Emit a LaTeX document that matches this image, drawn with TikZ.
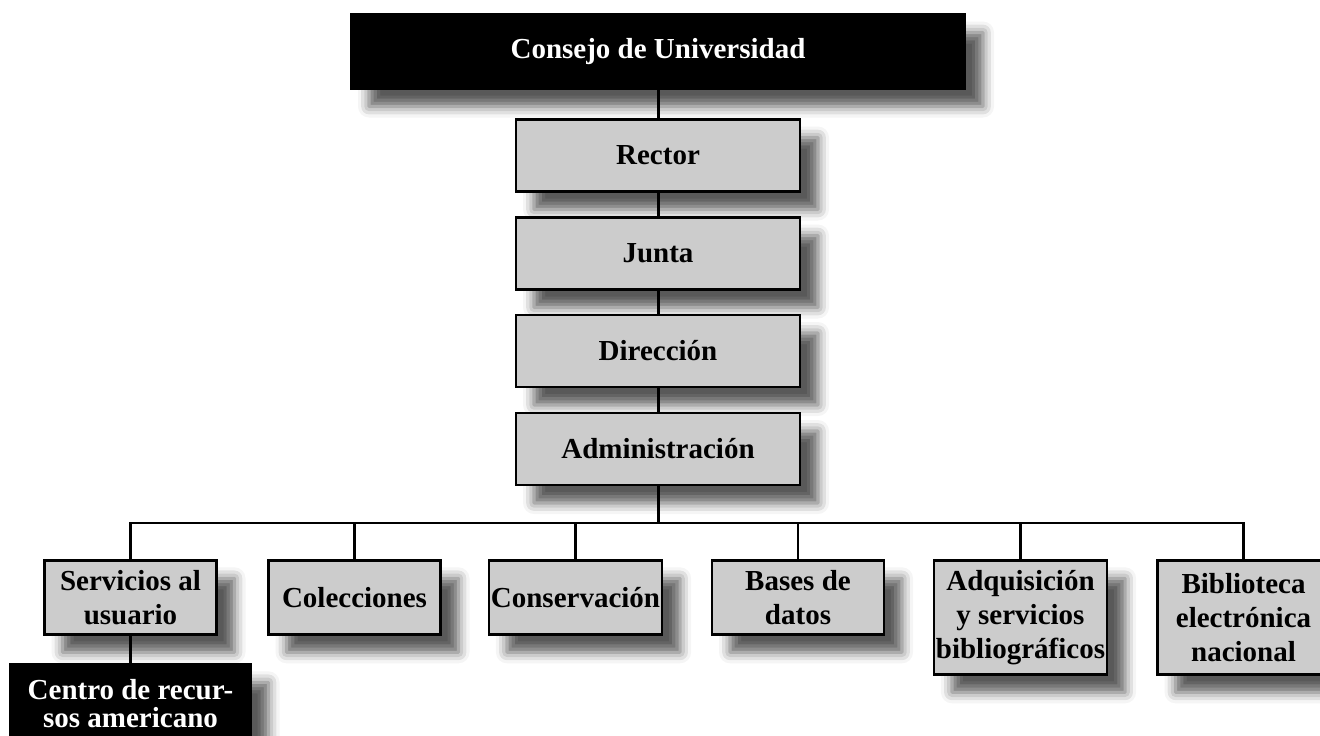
\documentclass[tikz,border=0pt]{standalone}
\usepackage{fontspec}
\setmainfont{Liberation Serif}
\usetikzlibrary{shadows.blur}
\definecolor{boxgray}{HTML}{CCCCCC}
\begin{document}
\begin{tikzpicture}[x=0.5pt,y=-0.5pt,
    unit/.style = {draw=black, line width=1.3pt, fill=boxgray, align=center,
                   minimum width=142pt, minimum height=36pt, inner xsep=1pt, inner ysep=3pt,
                   font=\fontsize{14.5}{17}\selectfont\bfseries,
                   blur shadow={shadow xshift=9pt, shadow yshift=-9pt,
                                shadow blur radius=5.5pt, shadow opacity=65}},
    head/.style = {unit, fill=black, text=white},
    leaf/.style = {unit, anchor=north, minimum width=86pt, minimum height=37pt},
    link/.style = {line width=1.5pt},
    branch/.style = {line width=1.2pt}]
    \useasboundingbox (0,0) rectangle (1320,735);

    % top of the chart
    \node[head, minimum width=307pt, minimum height=37pt] (consejo) at (658,51.5) {Consejo de Universidad};
    \node[unit] (rector) at (658,155.5) {Rector};
    \node[unit] (junta)  at (658,253.5) {Junta};
    \node[unit] (direccion) at (658,351) {Dirección};
    \node[unit] (admin)  at (658,449) {Administración};

    % departments
    \node[leaf] (servicios)    at (130.5,559)  {Servicios al\\usuario};
    \node[leaf] (colecciones)  at (354.5,559)  {Colecciones};
    \node[leaf] (conservacion) at (575.5,559)  {Conservación};
    \node[leaf] (bases)        at (798,559)    {Bases de\\datos};
    \node[leaf, minimum height=57pt] (adquisicion) at (1020.5,559) {Adquisición\\y servicios\\bibliográficos};
    \node[leaf, minimum height=57pt] (biblioteca)  at (1243.5,559) {Biblioteca\\electrónica\\nacional};

    \node[head, anchor=north, minimum width=120pt, minimum height=39pt,
          font=\fontsize{14.5}{14}\selectfont\bfseries] (centro) at (130.5,663) {Centro de recur-\\sos americano};

    % connectors
    \draw[link] (consejo) -- (rector);
    \draw[link] (rector) -- (junta);
    \draw[link] (junta) -- (direccion);
    \draw[link] (direccion) -- (admin);

    \coordinate (bus) at (658,523);
    \draw[link] (admin) -- (bus);
    \draw[branch] (servicios.north) |- (bus) -| (biblioteca.north);
    \foreach \n in {colecciones,conservacion,bases,adquisicion}
        \draw[branch] (\n.north) -- (\n.north |- bus);

    \draw[link] (servicios) -- (centro);
\end{tikzpicture}
\end{document}
